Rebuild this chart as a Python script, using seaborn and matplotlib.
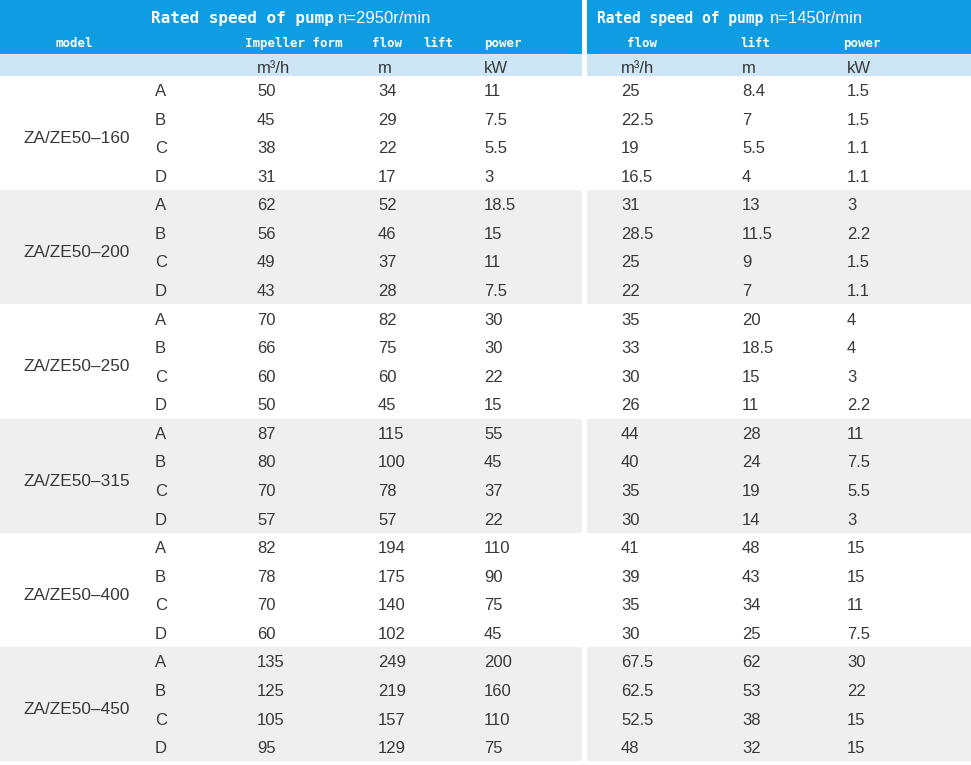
import numpy as np
import matplotlib
matplotlib.use("Agg")
import matplotlib.pyplot as plt
from matplotlib.colors import ListedColormap
from matplotlib.patches import Rectangle
import seaborn as sns

# Table data
models = ["ZA/ZE50–160", "ZA/ZE50–200", "ZA/ZE50–250",
          "ZA/ZE50–315", "ZA/ZE50–400", "ZA/ZE50–450"]
impellers = ["A", "B", "C", "D"]

flow_2950 = [50, 45, 38, 31, 62, 56, 49, 43, 70, 66, 60, 50,
             87, 80, 70, 57, 82, 78, 70, 60, 135, 125, 105, 95]
lift_2950 = [34, 29, 22, 17, 52, 46, 37, 28, 82, 75, 60, 45,
             115, 100, 78, 57, 194, 175, 140, 102, 249, 219, 157, 129]
power_2950 = [11, 7.5, 5.5, 3, 18.5, 15, 11, 7.5, 30, 30, 22, 15,
              55, 45, 37, 22, 110, 90, 75, 45, 200, 160, 110, 75]
flow_1450 = [25, 22.5, 19, 16.5, 31, 28.5, 25, 22, 35, 33, 30, 26,
             44, 40, 35, 30, 41, 39, 35, 30, 67.5, 62.5, 52.5, 48]
lift_1450 = [8.4, 7, 5.5, 4, 13, 11.5, 9, 7, 20, 18.5, 15, 11,
             28, 24, 19, 14, 48, 43, 34, 25, 62, 53, 38, 32]
power_1450 = [1.5, 1.5, 1.1, 1.1, 3, 2.2, 1.5, 1.1, 4, 4, 3, 2.2,
              11, 7.5, 5.5, 3, 15, 15, 11, 7.5, 30, 22, 15, 15]

units = ["m³/h", "m", "kW"]

# Layout (pixels)
W, H = 971, 765
BLUE = "#0E9CE2"
LIGHT_BLUE = "#CDE6F6"
GRAY = "#EFEFEF"
TEXT = "#383838"
BODY_TOP, ROW_H = 75.7, 28.57
GAP_L, GAP_R = 582, 587
data_cols = [257, 378, 484, 621, 742, 847]

sns.set_theme(style="white")
body_font = ["Liberation Sans", "DejaVu Sans"]
mono_font = ["DejaVu Sans Mono"]

fig = plt.figure(figsize=(W / 100, H / 100), dpi=100)

# striped body backgrounds drawn with seaborn heatmaps
n_rows = len(flow_2950)
stripes = np.repeat(np.arange(len(models)) % 2, len(impellers)).reshape(-1, 1)
body_bottom = 1 - (BODY_TOP + n_rows * ROW_H) / H
body_height = n_rows * ROW_H / H
for x0, x1 in [(0, GAP_L), (GAP_R, W)]:
    bax = fig.add_axes([x0 / W, body_bottom, (x1 - x0) / W, body_height])
    sns.heatmap(stripes, cmap=ListedColormap(["white", GRAY]), vmin=0, vmax=1,
                cbar=False, xticklabels=False, yticklabels=False, linewidths=0, ax=bax)
    bax.set_axis_off()

ax = fig.add_axes([0, 0, 1, 1])
ax.set_xlim(0, W)
ax.set_ylim(H, 0)
ax.set_axis_off()
ax.patch.set_alpha(0)

# header bands
for x0, x1 in [(0, GAP_L), (GAP_R, W)]:
    ax.add_patch(Rectangle((x0, 0), x1 - x0, 54, color=BLUE, lw=0))
    ax.add_patch(Rectangle((x0, 54), x1 - x0, BODY_TOP - 54, color=LIGHT_BLUE, lw=0))

hkw = dict(color="white", va="baseline", ha="left")
ax.text(151, 23, "Rated speed of pump", family=mono_font, weight="bold", size=11.5, **hkw)
ax.text(338, 23, "n=2950r/min", family=body_font, size=12, **hkw)
ax.text(597, 23, "Rated speed of pump", family=mono_font, weight="bold", size=10.5, **hkw)
ax.text(770, 23, "n=1450r/min", family=body_font, size=12, **hkw)

sub_headers = [(55, "model"), (245, "Impeller form"), (372, "flow"), (423, "lift"),
               (484, "power"), (627, "flow"), (740, "lift"), (843, "power")]
for x, label in sub_headers:
    ax.text(x, 47, label, family=mono_font, weight="bold", size=9, **hkw)

for x, u in zip(data_cols, units + units):
    ax.text(x, 72.5, u, family=body_font, size=12, color=TEXT, va="baseline")

# body text
columns = [flow_2950, lift_2950, power_2950, flow_1450, lift_1450, power_1450]
for i in range(n_rows):
    yb = BODY_TOP + (i + 0.5) * ROW_H + 6
    ax.text(155, yb, impellers[i % 4], family=body_font, size=12, color=TEXT, va="baseline")
    for x, col in zip(data_cols, columns):
        ax.text(x, yb, f"{col[i]:g}", family=body_font, size=12, color=TEXT, va="baseline")

for g, name in enumerate(models):
    yc = BODY_TOP + (g * 4 + 2) * ROW_H
    ax.text(23, yc + 10, name, family=body_font, size=12.4, color=TEXT, va="baseline")

fig.savefig("out.png", dpi=100)
